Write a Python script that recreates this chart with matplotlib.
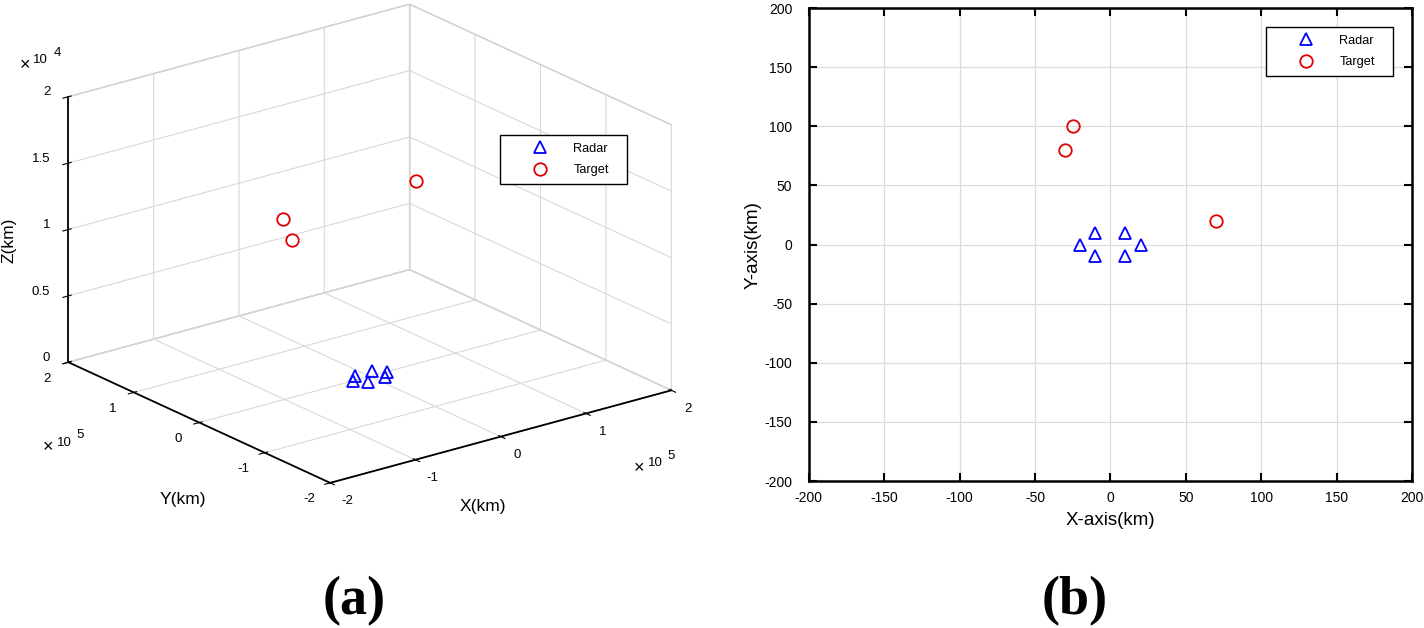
import numpy as np
import matplotlib
matplotlib.use("Agg")
import matplotlib.pyplot as plt
from mpl_toolkits.mplot3d import Axes3D  # noqa: F401

# radar / target positions (km)
radar_x = [-20, -10, -10, 10, 10, 20]
radar_y = [0, 10, -10, 10, -10, 0]
target_x = [-25, -30, 70]
target_y = [100, 80, 20]
# target heights (m) for the 3D view
target_z = [10000, 9000, 13000]

xy_ticks_3d = [-2e5, -1e5, 0, 1e5, 2e5]
xy_ticklabels_3d = ["-2", "-1", "0", "1", "2"]
z_ticks_3d = [0, 0.5e4, 1e4, 1.5e4, 2e4]
z_ticklabels_3d = ["0", "0.5", "1", "1.5", "2"]
ticks_2d = [-200, -150, -100, -50, 0, 50, 100, 150, 200]

plt.rcParams["font.family"] = ["Liberation Sans", "DejaVu Sans"]
plt.rcParams["axes.unicode_minus"] = False

fig = plt.figure(figsize=(14.24, 6.28), dpi=100)

radar_style = dict(linestyle="none", marker="^", markersize=9, markerfacecolor="none",
                   markeredgecolor="#0000ff", markeredgewidth=1.3)
target_style = dict(linestyle="none", marker="o", markersize=9, markerfacecolor="none",
                    markeredgecolor="#e00000", markeredgewidth=1.3)
legend_style = dict(fancybox=False, edgecolor="black", framealpha=1, fontsize=9.2,
                    handlelength=5.0, handletextpad=0.15, borderpad=0.6, labelspacing=0.75,
                    mode="expand", borderaxespad=0)

# ---------------- (a) 3D view ----------------
ax3 = fig.add_axes([-0.0102, 0.186, 0.53, 0.83], projection="3d")
ax3.set_proj_type("ortho")
ax3.view_init(elev=20.7, azim=-127.5)
ax3.set_box_aspect((1, 1, 0.66), zoom=1.25)

rx = np.array(radar_x) * 1000
ry = np.array(radar_y) * 1000
tx = np.array(target_x) * 1000
ty = np.array(target_y) * 1000
ax3.plot(rx, ry, np.zeros(len(rx)), label="Radar", **radar_style)
ax3.plot(tx, ty, target_z, label="Target", **target_style)

ax3.set_xlim(-2e5, 2e5)
ax3.set_ylim(-2e5, 2e5)
ax3.set_zlim(0, 2e4)
ax3.set_xticks(xy_ticks_3d)
ax3.set_yticks(xy_ticks_3d)
ax3.set_zticks(z_ticks_3d)
ax3.set_xticklabels([])
ax3.set_yticklabels([])
ax3.set_zticklabels([])

# tick labels drawn by hand so they sit where MATLAB puts them
for t, lab in zip(xy_ticks_3d, xy_ticklabels_3d):
    ax3.text(t, -2e5 - 25800, -800, lab, fontsize=9.5, ha="center", va="center")
    ax3.text(-2e5 - 24700, t, -800, lab, fontsize=9.5, ha="center", va="center")
for t, lab in zip(z_ticks_3d, z_ticklabels_3d):
    ax3.text(-2e5, 2e5 + 27600, t - 300, lab, fontsize=9.5, ha="right", va="center")

for axis in (ax3.xaxis, ax3.yaxis, ax3.zaxis):
    axis.set_pane_color((1, 1, 1, 1))
    axis.pane.set_edgecolor("#c0c0c0")
    axis._axinfo["grid"].update(color="#d8d8d8", linewidth=0.8)
    axis.line.set_color("black")
    axis.line.set_linewidth(1.3)

# axis titles and exponent labels, placed like the original figure
fig.text(0.339, 0.193, "X(km)", fontsize=12.5, ha="center", va="center")
fig.text(0.1285, 0.204, "Y(km)", fontsize=12.5, ha="center", va="center")
fig.text(0.0065, 0.617, "Z(km)", fontsize=12.5, ha="center", va="center", rotation=90)
for x0, y0, p in [(0.0175, 0.896, "4"), (0.034, 0.287, "5"), (0.449, 0.254, "5")]:
    fig.text(x0, y0, "\u00d7", fontsize=13, ha="center", va="center")
    fig.text(x0 + 0.0112, y0 + 0.008, "10", fontsize=9.5, ha="center", va="center")
    fig.text(x0 + 0.0225, y0 + 0.020, p, fontsize=9.5, ha="center", va="center")

ax3.legend(loc="upper left", bbox_to_anchor=(0.3511, 0.702, 0.0892, 0.0828),
           bbox_transform=fig.transFigure, **legend_style)

# ---------------- (b) top view ----------------
ax2 = fig.add_axes([0.568, 0.234, 0.4235, 0.753])
ax2.plot(radar_x, radar_y, label="Radar", **radar_style)
ax2.plot(target_x, target_y, label="Target", **target_style)
ax2.set_xlim(-200, 200)
ax2.set_ylim(-200, 200)
ax2.set_xticks(ticks_2d)
ax2.set_yticks(ticks_2d)
ax2.tick_params(direction="in", top=True, right=True, labelsize=10, length=6, width=1.5)
ax2.tick_params(axis="x", pad=7)
ax2.tick_params(axis="y", pad=12)
ax2.grid(True, color="#dcdcdc", linewidth=0.9)
for s in ax2.spines.values():
    s.set_linewidth(1.8)
ax2.set_xlabel("X-axis(km)", fontsize=13.5, labelpad=5)
ax2.set_ylabel("Y-axis(km)", fontsize=13.5, labelpad=2)
ax2.legend(loc="upper left", bbox_to_anchor=(0.889, 0.957 - 0.0812, 0.0892, 0.0812),
           bbox_transform=fig.transFigure, **legend_style)

fig.text(0.249, 0.043, "(a)", fontsize=39, fontweight="bold", family="Liberation Serif",
         ha="center", va="center")
fig.text(0.755, 0.043, "(b)", fontsize=39, fontweight="bold", family="Liberation Serif",
         ha="center", va="center")

fig.savefig("out.png", dpi=100)
